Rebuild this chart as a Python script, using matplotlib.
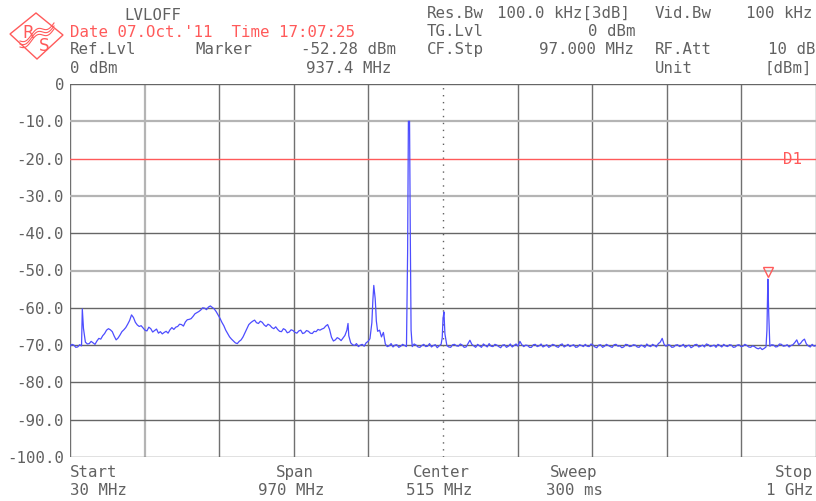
import matplotlib
matplotlib.use("Agg")
import matplotlib.pyplot as plt
from matplotlib.patches import Polygon
import numpy as np

# sweep settings
start_mhz = 30.0
stop_mhz = 1000.0
ref_dbm = 0.0
db_per_div = 10.0
d1_dbm = -20.0
marker_mhz = 937.4
marker_dbm = -52.28

# trace, one value every 5 MHz from 30 MHz to 1 GHz
base_dbm = [
    -70.3, -70.0, -70.5, -70.2, -69.2, -69.6, -69.4, -68.9, -68.4, -66.9,   # 30..75
    -65.6, -66.4, -68.6, -67.3, -65.9, -64.4, -61.9, -63.9, -65.0, -65.4,   # 80..125
    -66.2, -65.6, -66.1, -66.8, -67.0, -66.3, -65.9, -65.8, -65.0, -64.5,   # 130..175
    -63.8, -63.1, -62.3, -61.3, -60.6, -60.1, -59.8, -59.9, -61.0, -62.8,   # 180..225
    -64.8, -66.9, -68.4, -69.4, -69.0, -67.8, -65.6, -64.0, -63.3, -64.2,   # 230..275
    -63.9, -65.0, -64.7, -65.6, -65.8, -66.4, -65.9, -66.5, -66.1, -66.8,   # 280..325
    -66.0, -66.7, -66.3, -66.9, -66.4, -66.0, -65.5, -64.5, -67.9, -68.6,   # 330..375
    -68.3, -68.1, -66.0, -69.4, -70.1, -70.4, -69.8, -69.4, -68.3, -54.0,   # 380..425
    -66.3, -67.8, -69.7, -70.2, -70.5, -69.9, -70.3, -70.1, -10.0, -70.4,   # 430..475
    -70.0, -70.6, -69.8, -70.3, -70.5, -69.9, -70.2, -63.0, -70.1, -70.6,   # 480..525
    -69.8, -70.3, -70.0, -70.5, -68.7, -70.2, -69.8, -70.6, -70.1, -69.6,   # 530..575
    -70.4, -70.0, -70.7, -69.9, -70.3, -70.5, -69.7, -69.0, -70.4, -70.1,   # 580..625
    -70.6, -69.8, -70.2, -70.5, -69.9, -70.3, -70.0, -70.6, -69.7, -70.2,   # 630..675
    -70.4, -69.9, -70.5, -70.1, -69.8, -70.4, -70.0, -70.7, -69.9, -70.3,   # 680..725
    -70.1, -70.6, -69.8, -70.2, -70.5, -69.9, -70.3, -70.0, -70.6, -70.2,   # 730..775
    -69.7, -70.4, -70.1, -69.6, -68.2, -70.3, -70.0, -70.5, -69.9, -70.2,   # 780..825
    -70.6, -70.0, -70.4, -69.8, -70.3, -70.5, -69.9, -70.2, -70.6, -70.1,   # 830..875
    -69.8, -70.4, -70.0, -70.5, -69.9, -70.3, -70.1, -70.6, -70.4, -71.0,   # 880..925
    -71.2, -70.5, -70.3, -70.0, -70.4, -69.8, -70.2, -70.5, -69.9, -68.6,   # 930..975
    -69.5, -68.4, -70.2, -69.8, -70.1,                                      # 980..1000
]

# values halfway between the 5 MHz samples (32.5 .. 997.5 MHz)
mid_dbm = [
    -69.8, -70.6, -69.9, -65.5, -69.7, -69.0, -69.8, -68.2, -67.5, -66.0,   # 32.5..77.5
    -65.9, -67.6, -68.1, -66.4, -65.3, -63.4, -62.6, -64.6, -64.8, -66.0,   # 82.5..127.5
    -65.2, -66.5, -65.7, -66.4, -66.6, -66.8, -65.3, -65.2, -64.4, -64.9,   # 132.5..177.5
    -63.2, -62.9, -61.6, -61.0, -60.0, -60.5, -59.5, -60.3, -61.9, -63.9,   # 182.5..227.5
    -66.0, -67.8, -68.9, -69.6, -68.6, -66.7, -64.5, -63.6, -64.0, -63.6,   # 232.5..277.5
    -64.6, -64.4, -65.3, -65.1, -66.3, -65.6, -66.7, -65.9, -66.6, -66.2,   # 282.5..327.5
    -66.9, -66.1, -66.8, -66.3, -65.8, -65.7, -64.9, -65.8, -68.9, -68.0,   # 332.5..377.5
    -68.8, -67.4, -67.5, -69.9, -69.6, -70.0, -70.3, -69.0, -64.0, -60.0,   # 382.5..427.5
    -66.0, -66.6, -70.4, -69.6, -70.0, -70.6, -69.8, -70.4, -41.0, -69.7,   # 432.5..477.5
    -70.5, -70.1, -70.4, -69.6, -70.1, -70.7, -69.8, -67.0, -70.5, -69.9,   # 482.5..527.5
    -70.2, -69.7, -70.6, -69.6, -69.8, -70.6, -70.2, -69.7, -70.5, -70.3,   # 532.5..577.5
    -69.8, -70.4, -70.0, -70.6, -69.7, -70.1, -70.3, -69.9, -70.0, -70.6,   # 582.5..627.5
    -69.9, -70.4, -69.7, -70.2, -70.6, -69.8, -70.4, -69.9, -70.5, -69.8,   # 632.5..677.5
    -70.1, -70.6, -69.9, -70.4, -70.3, -69.7, -70.5, -70.0, -70.6, -69.8,   # 682.5..727.5
    -70.4, -69.9, -70.3, -70.7, -69.8, -70.4, -69.9, -70.5, -70.0, -70.6,   # 732.5..777.5
    -70.2, -69.8, -70.5, -69.2, -69.8, -69.9, -70.6, -70.0, -70.4, -69.8,   # 782.5..827.5
    -70.2, -70.7, -69.9, -70.5, -70.0, -69.7, -70.4, -70.0, -69.8, -70.5,   # 832.5..877.5
    -70.2, -69.9, -70.6, -70.0, -70.4, -69.8, -70.5, -70.2, -70.8, -70.7,   # 882.5..927.5
    -70.9, -53.5, -69.9, -70.5, -69.7, -70.3, -69.9, -70.1, -69.3, -69.9,   # 932.5..977.5
    -68.8, -69.7, -70.5, -70.3,                                             # 982.5..997.5
]

# narrow carriers between the samples
spike_mhz = [46.0, 391.5, 423.8, 426.8, 428.3, 469.0, 471.5, 473.5,
             514.0, 516.2, 936.2, 937.4, 938.6]
spike_dbm = [-60.3, -64.2, -58.0, -57.5, -63.5, -45.0, -10.0, -66.0,
             -68.0, -61.1, -66.0, -52.3, -62.0]

ytick_labels = ["0", "-10.0", "-20.0", "-30.0", "-40.0", "-50.0",
                "-60.0", "-70.0", "-80.0", "-90.0", "-100.0"]

GRAY = "#616161"
RED = "#ff5a5a"
BLUE = "#4d4dff"
FONT = "DejaVu Sans Mono"
FS = 11.3

W, H = 816, 501
fig = plt.figure(figsize=(W / 100, H / 100), dpi=100)
fig.patch.set_facecolor("white")

# plot area in pixels: x 70..816, y 84..457
ax = fig.add_axes([70 / W, 1 - 457 / H, 746 / W, 373 / H])
ax.set_xlim(start_mhz, stop_mhz)
ax.set_ylim(ref_dbm - 10 * db_per_div, ref_dbm)
ax.axis("off")

# graticule
div_mhz = (stop_mhz - start_mhz) / 10
for k in range(11):
    f = start_mhz + k * div_mhz
    if k == 5:
        ax.axvline(f, color="#606060", lw=1.0, ls=(0, (1, 4)), zorder=1)
    elif k == 1:
        ax.axvline(f, color="#b4b4b4", lw=1.6, zorder=1)
    else:
        ax.axvline(f, color="#707070", lw=1.0, zorder=1)
for k in range(11):
    lvl = ref_dbm - k * db_per_div
    if k in (1, 3, 5):
        ax.axhline(lvl, color="#b4b4b4", lw=1.6, zorder=1)
    elif k == 2:
        continue
    else:
        ax.axhline(lvl, color="#666666", lw=1.0, zorder=1)

# display line D1
ax.axhline(d1_dbm, color=RED, lw=1.0, zorder=2)

# trace
base_mhz = np.linspace(start_mhz, stop_mhz, len(base_dbm))
mid_mhz = base_mhz[:-1] + (base_mhz[1] - base_mhz[0]) / 2
all_mhz = np.concatenate([base_mhz, mid_mhz, spike_mhz])
all_dbm = np.concatenate([base_dbm, mid_dbm, spike_dbm])
order = np.argsort(all_mhz, kind="stable")
ax.plot(all_mhz[order], all_dbm[order], color=BLUE, lw=0.9, zorder=3)

# marker
ax.plot([marker_mhz], [marker_dbm + 1.8], marker="v", ms=7.5, mfc="none",
        mec=RED, mew=1.0, zorder=4, clip_on=False)

# overlay in pixel coordinates for the screen annotations
ov = fig.add_axes([0, 0, 1, 1])
ov.set_xlim(0, W)
ov.set_ylim(H, 0)
ov.axis("off")


def put(s, x, y, ha="left", color=GRAY):
    ov.text(x, y, s, ha=ha, va="baseline", color=color, fontsize=FS,
            family=FONT)


# header, left block
put("LVLOFF", 124, 20)
put("Date 07.Oct.'11  Time 17:07:25", 70, 37, color=RED)
put("Ref.Lvl", 70, 54)
put("Marker", 195, 54)
put("-52.28 dBm", 396, 54, ha="right")
put("0 dBm", 70, 73)
put("937.4 MHz", 392, 73, ha="right")

# header, right block
put("Res.Bw", 427, 18)
put("100.0 kHz[3dB]", 630, 18, ha="right")
put("Vid.Bw", 655, 18)
put("100 kHz", 812, 18, ha="right")
put("TG.Lvl", 427, 36)
put("0 dBm", 635, 36, ha="right")
put("CF.Stp", 427, 54)
put("97.000 MHz", 634, 54, ha="right")
put("RF.Att", 655, 54)
put("10 dB", 815, 54, ha="right")
put("Unit", 655, 73)
put("[dBm]", 812, 73, ha="right")

# level scale
for k, lab in enumerate(ytick_labels):
    y = 84 + k * 37.3
    put(lab, 64, y + 6, ha="right")

put("D1", 783, 164, color=RED)

# footer
put("Start", 70, 477)
put("30 MHz", 70, 495)
put("Span", 295, 477, ha="center")
put("970 MHz", 291, 495, ha="center")
put("Center", 441, 477, ha="center")
put("515 MHz", 439, 495, ha="center")
put("Sweep", 574, 477, ha="center")
put("300 ms", 574, 495, ha="center")
put("Stop", 813, 477, ha="right")
put("1 GHz", 813, 495, ha="right")

# R&S logo
ov.add_patch(Polygon([[10, 34], [36, 13], [63, 35], [37, 59]], closed=True,
                     fill=False, edgecolor=RED, lw=1.0))
ov.text(28, 38, "R", ha="center", va="baseline", color=RED, fontsize=12,
        family="DejaVu Sans")
ov.text(44, 51, "S", ha="center", va="baseline", color=RED, fontsize=12,
        family="DejaVu Sans")
t = np.linspace(0, 1, 60)
for off in (-3, 0, 3):
    xs = 20 + 34 * t
    ys = 44 - 18 * t + 3 * np.sin(2 * np.pi * t * 1.5) + off
    ov.plot(xs, ys, color=RED, lw=0.8)

fig.savefig("out.png", dpi=100)
